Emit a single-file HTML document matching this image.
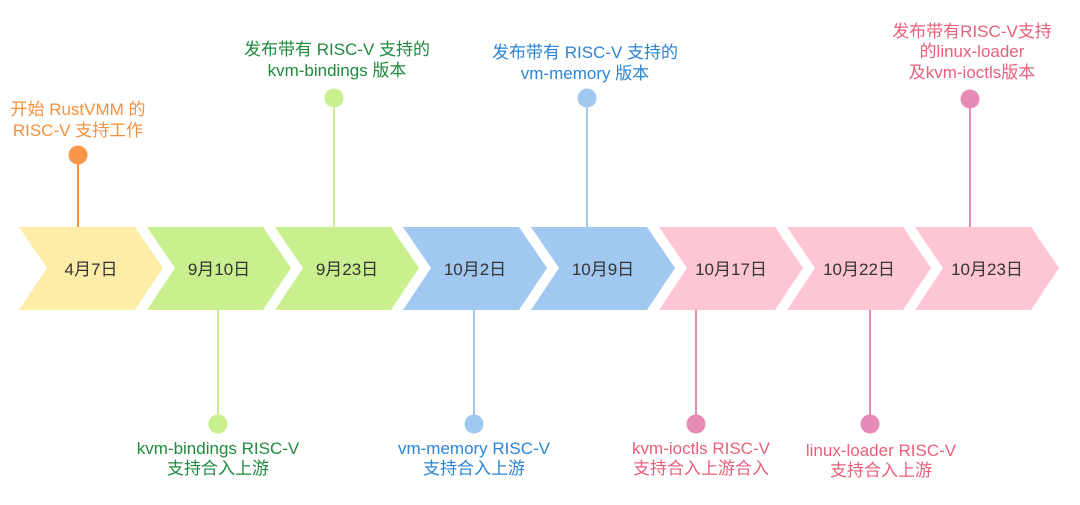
<!DOCTYPE html>
<html><head><meta charset="utf-8"><style>
html,body{margin:0;padding:0;background:#fff;}
svg{display:block;}
text{font-family:"Liberation Sans","Noto Sans CJK SC",sans-serif;font-size:17px;text-anchor:middle;}
.d{fill:#333;font-size:17px;}
</style></head><body>
<svg width="1080" height="505" viewBox="0 0 1080 505" xmlns="http://www.w3.org/2000/svg">
<!-- connectors -->
<g stroke-width="2">
<line x1="78" y1="155" x2="78" y2="228" stroke="#F7913D"/>
<line x1="334" y1="98" x2="334" y2="228" stroke="#C9EF8E"/>
<line x1="587" y1="98" x2="587" y2="228" stroke="#A0C8F0"/>
<line x1="970" y1="99" x2="970" y2="228" stroke="#E58BB6"/>
<line x1="218" y1="309" x2="218" y2="424" stroke="#C9EF8E"/>
<line x1="474" y1="309" x2="474" y2="424" stroke="#A0C8F0"/>
<line x1="696" y1="309" x2="696" y2="424" stroke="#E58BB6"/>
<line x1="870" y1="309" x2="870" y2="424" stroke="#E58BB6"/>
</g>
<!-- chevrons -->
<polygon points="19,227 135,227 163,268 135,310 19,310 47,268" fill="#FEEDA8"/>
<polygon points="147,227 263,227 291,268 263,310 147,310 175,268" fill="#C9EF8E"/>
<polygon points="275,227 391,227 419,268 391,310 275,310 303,268" fill="#C9EF8E"/>
<polygon points="403,227 519,227 547,268 519,310 403,310 431,268" fill="#A0C8F0"/>
<polygon points="531,227 647,227 675,268 647,310 531,310 559,268" fill="#A0C8F0"/>
<polygon points="659,227 775,227 803,268 775,310 659,310 687,268" fill="#FEC6D2"/>
<polygon points="787,227 903,227 931,268 903,310 787,310 815,268" fill="#FEC6D2"/>
<polygon points="915,227 1031,227 1059,268 1031,310 915,310 943,268" fill="#FEC6D2"/>
<text class="d" x="91" y="275">4月7日</text>
<text class="d" x="219" y="275">9月10日</text>
<text class="d" x="347" y="275">9月23日</text>
<text class="d" x="475" y="275">10月2日</text>
<text class="d" x="603" y="275">10月9日</text>
<text class="d" x="731" y="275">10月17日</text>
<text class="d" x="859" y="275">10月22日</text>
<text class="d" x="987" y="275">10月23日</text>
<!-- dots -->
<circle cx="78" cy="155" r="9.5" fill="#F9964A"/>
<circle cx="334" cy="98" r="9.5" fill="#C9EF8E"/>
<circle cx="587" cy="98" r="9.5" fill="#A0C8F0"/>
<circle cx="970" cy="99" r="9.5" fill="#E58BB6"/>
<circle cx="218" cy="424" r="9.5" fill="#C9EF8E"/>
<circle cx="474" cy="424" r="9.5" fill="#A0C8F0"/>
<circle cx="696" cy="424" r="9.5" fill="#E58BB6"/>
<circle cx="870" cy="424" r="9.5" fill="#E58BB6"/>
<!-- labels -->
<g fill="#F7913D"><text x="78" y="115">开始 RustVMM 的</text><text x="78" y="136">RISC-V 支持工作</text></g>
<g fill="#1E8A3C"><text x="337" y="55">发布带有 RISC-V 支持的</text><text x="337" y="76">kvm-bindings 版本</text></g>
<g fill="#2B84D6"><text x="585" y="58">发布带有 RISC-V 支持的</text><text x="585" y="79">vm-memory 版本</text></g>
<g fill="#E8607A"><text x="972" y="37">发布带有RISC-V支持</text><text x="972" y="57">的linux-loader</text><text x="972" y="78">及kvm-ioctls版本</text></g>
<g fill="#1E8A3C"><text x="218" y="454">kvm-bindings RISC-V</text><text x="218" y="474">支持合入上游</text></g>
<g fill="#2B84D6"><text x="474" y="454">vm-memory RISC-V</text><text x="474" y="474">支持合入上游</text></g>
<g fill="#E8607A"><text x="701" y="454">kvm-ioctls RISC-V</text><text x="701" y="474">支持合入上游合入</text></g>
<g fill="#E8607A"><text x="881" y="456">linux-loader RISC-V</text><text x="881" y="476">支持合入上游</text></g>
</svg>
</body></html>
